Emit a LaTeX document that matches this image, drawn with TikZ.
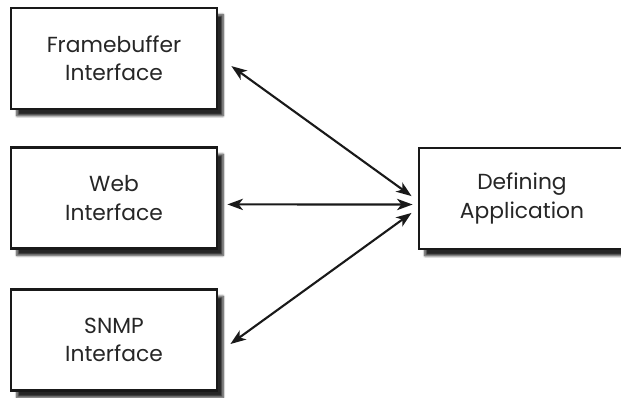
\documentclass[tikz,border=0pt]{standalone}
\usepackage{fontspec}
\setmainfont{Poppins}
\usetikzlibrary{arrows.meta,shadows.blur}

\begin{document}
\begin{tikzpicture}[x=0.025cm,y=-0.025cm,
    every node/.style={draw=black!90,line width=2pt,fill=white,align=center,
      minimum width=5.15cm,minimum height=2.525cm,font=\fontsize{15.5}{20}\selectfont,
      text=black!85,
      blur shadow={shadow xshift=0.15cm,shadow yshift=-0.17cm,shadow blur radius=0.06cm,
        shadow blur steps=6,shadow opacity=85}},
    link/.style={{Stealth[length=11pt,width=8pt,inset=3pt]}-{Stealth[length=11pt,width=8pt,inset=3pt]},
      line width=1.5pt,black!90}]
  \useasboundingbox (0,0) rectangle (621,397);
  \foreach \name/\y/\txt in {fb/58.5/{Framebuffer\\Interface},web/198/{Web\\Interface},snmp/340/{SNMP\\Interface}}{
    \node (\name) at (114,\y) {\txt};
  }
  \node (app) at (522,198.5) {Defining\\Application};

  \foreach \src/\a/\b/\c/\d in {fb/0.325/-0.19/-0.15/0.06,web/0.225/-0.16/-0.125/-0.15,snmp/0.3/-0.1/-0.15/-0.36}{
    \draw[link] ([xshift=\a cm,yshift=\b cm]\src.east) -- ([xshift=\c cm,yshift=\d cm]app.west);
  }
\end{tikzpicture}
\end{document}
